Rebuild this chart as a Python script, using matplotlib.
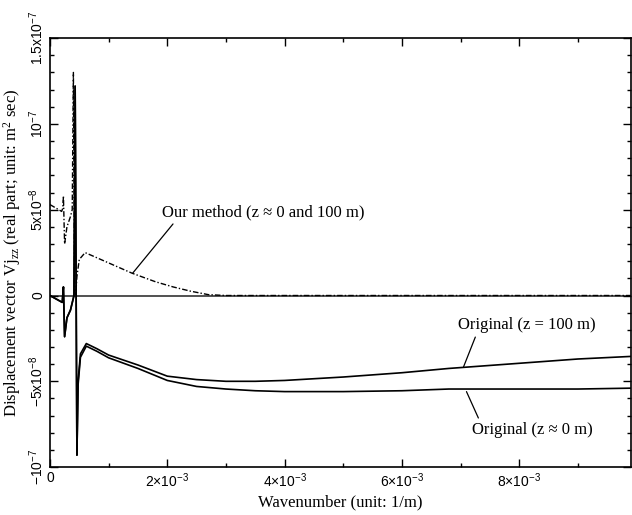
import numpy as np
import matplotlib
matplotlib.use("Agg")
import matplotlib.pyplot as plt
from matplotlib.ticker import MultipleLocator, FixedLocator

plt.rcParams['font.family'] = ['Liberation Serif', 'DejaVu Serif']
plt.rcParams['mathtext.fontset'] = 'custom'
plt.rcParams['mathtext.rm'] = 'Liberation Serif'
plt.rcParams['mathtext.it'] = 'Liberation Serif:italic'
plt.rcParams['mathtext.sf'] = 'Liberation Sans'

# --- data (wavenumber in 1e-3 1/m, values in 1e-8) ---
k_ours = [0.0, 0.20, 0.22, 0.23, 0.25, 0.29, 0.35, 0.38, 0.40, 0.42, 0.44, 0.46,
          0.50, 0.60, 0.80, 1.0, 1.4, 1.8, 2.1, 2.4, 2.7, 3.0, 5.0, 9.9]
v_ours = [5.3, 4.9, 5.1, 5.8, 3.0, 4.0, 4.6, 5.0, 13.0, 0.3, 0.0, 1.1,
          2.1, 2.5, 2.2, 1.9, 1.3, 0.8, 0.5, 0.25, 0.05, 0.0, 0.0, 0.0]

k_orig = [0.0, 0.21, 0.23, 0.25, 0.29, 0.35, 0.41, 0.43, 0.46, 0.48, 0.52, 0.62,
          0.8, 1.0, 1.5, 2.0, 2.5, 3.0, 3.5, 4.0, 5.0, 6.0, 6.8, 8.0, 9.0, 9.9]
v_orig100 = [0.0, -0.4, 0.5, -2.4, -1.3, -0.85, 0.0, 12.2, -9.3, -5.0, -3.4, -2.8,
             -3.1, -3.47, -4.05, -4.7, -4.9, -5.0, -5.0, -4.95, -4.75, -4.5, -4.25,
             -3.95, -3.7, -3.55]
v_orig0 = [0.0, -0.4, 0.5, -2.4, -1.3, -0.85, 0.0, 12.2, -9.3, -5.2, -3.6, -2.95,
           -3.25, -3.63, -4.25, -4.95, -5.3, -5.45, -5.55, -5.6, -5.6, -5.55, -5.45,
           -5.45, -5.45, -5.4]

k_ours = np.array(k_ours) * 1e-3
k_orig = np.array(k_orig) * 1e-3
v_ours = np.array(v_ours) * 1e-8
v_orig100 = np.array(v_orig100) * 1e-8
v_orig0 = np.array(v_orig0) * 1e-8

fig = plt.figure(figsize=(6.32, 5.15), dpi=100)
ax = fig.add_axes([0.079, 0.093, 0.919, 0.833])

ax.axhline(0, color='#333333', lw=1.2, zorder=1)
ax.plot(k_orig, v_orig100, color='black', lw=1.2)
ax.plot(k_orig, v_orig0, color='black', lw=1.2)
ax.plot(k_ours, v_ours, color='black', lw=1.0, linestyle=(0, (4, 1.5, 1, 1.5)))

ax.set_xlim(0, 9.9e-3)
ax.set_ylim(-1e-7, 1.5e-7)

# ticks
ax.xaxis.set_major_locator(FixedLocator([0, 2e-3, 4e-3, 6e-3, 8e-3]))
ax.xaxis.set_minor_locator(MultipleLocator(1e-3))
ax.yaxis.set_major_locator(MultipleLocator(5e-8))
ax.yaxis.set_minor_locator(MultipleLocator(1e-8))
ax.tick_params(which='both', direction='in', top=True, right=True, width=1)
ax.tick_params(which='major', length=6)
ax.tick_params(which='minor', length=3)

x_labels = ['0', r'$\mathsf{2{\times}10^{-3}}$', r'$\mathsf{4{\times}10^{-3}}$',
            r'$\mathsf{6{\times}10^{-3}}$', r'$\mathsf{8{\times}10^{-3}}$']
y_labels = [r'$\mathsf{-10^{-7}}$', r'$\mathsf{-5x10^{-8}}$', '0',
            r'$\mathsf{5x10^{-8}}$', r'$\mathsf{10^{-7}}$', r'$\mathsf{1.5x10^{-7}}$']
ax.set_xticklabels(x_labels, fontsize=10, family='Liberation Sans')
ax.set_yticks([-1e-7, -5e-8, 0, 5e-8, 1e-7, 1.5e-7])
ax.set_yticklabels(y_labels, fontsize=10, family='Liberation Sans',
                   rotation=90, va='center')
ax.tick_params(axis='x', pad=3)
ax.tick_params(axis='y', pad=3)

for s in ax.spines.values():
    s.set_linewidth(1.2)

ax.set_xlabel('Wavenumber (unit: 1/m)', fontsize=12, labelpad=3)
ax.set_ylabel(r'Displacement vector Vj$_{\mathrm{zz}}$ (real part; unit: m$^{2}$ sec)',
              fontsize=12, labelpad=3)

# annotations
arrow = dict(arrowstyle='-', color='black', lw=0.9, shrinkA=1, shrinkB=0)
ax.annotate('Our method (z \u2248 0 and 100 m)', xy=(1.41e-3, 1.3e-8),
            xytext=(1.91e-3, 4.86e-8), ha='left', va='center', fontsize=12,
            arrowprops=dict(arrow, relpos=(0.07, 0)))
ax.annotate('Original (z = 100 m)', xy=(7.05e-3, -4.16e-8),
            xytext=(6.95e-3, -1.72e-8), ha='left', va='center', fontsize=12,
            arrowprops=dict(arrow, relpos=(0.14, 0)))
ax.annotate('Original (z \u2248 0 m)', xy=(7.10e-3, -5.6e-8),
            xytext=(7.19e-3, -7.84e-8), ha='left', va='center', fontsize=12,
            arrowprops=dict(arrow, relpos=(0.07, 1)))

fig.savefig('out.png', dpi=100)
